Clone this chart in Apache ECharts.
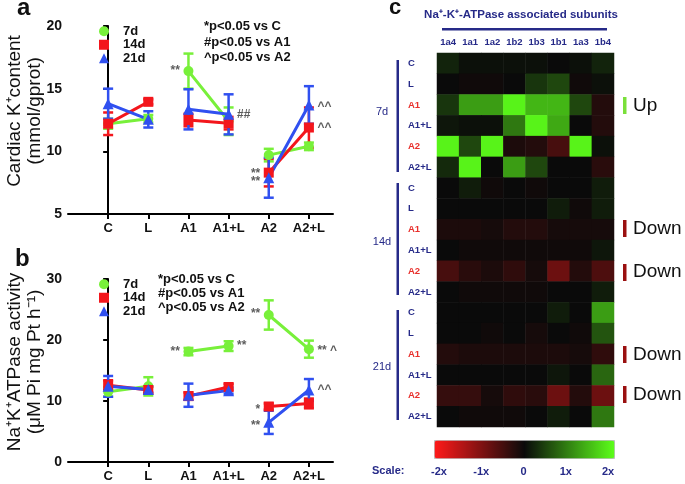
<!DOCTYPE html>
<html>
<head>
<meta charset="utf-8">
<script src="https://cdn.jsdelivr.net/npm/echarts@6/dist/echarts.min.js"></script>
<style>
  html, body { margin: 0; padding: 0; background: #fff; }
  #chart { width: 685px; height: 484px; }
</style>
</head>
<body>
<div id="chart"></div>
<script>
// groups on the x axis of panels a and b
const categories = ['C', 'L', 'A1', 'A1+L', 'A2', 'A2+L'];
const groupNames = ['7d', '14d', '21d'];

// panel a: cardiac K+ content (mean, sem)
const kMean7d = [12.2, 12.6, 16.4, 12.4, 9.7, 10.4];
const kErr7d = [0.4, 0.3, 1.4, 1.1, 0.5, 0.3];
const kMean14d = [12.2, 13.95, 12.5, 12.25, 8.3, 11.9];
const kErr14d = [0.9, 0.2, 0.5, 0.5, 1.1, 1.6];
const kMean21d = [13.8, 12.55, 13.35, 12.95, 7.9, 13.7];
const kErr21d = [1.2, 0.65, 1.6, 1.6, 1.6, 1.5];
const kTicks = [5, 10, 15, 20];

// panel b: Na+K+ATPase activity
const atpMean7d = [11.5, 12.4, 18.1, 19.0, 24.1, 18.5];
const atpErr7d = [0.8, 1.5, 0.6, 0.8, 2.4, 1.4];
const atpMean14d = [12.6, 11.8, 10.8, 12.3, 9.1, 9.6];
const atpErr14d = [0.8, 0.5, 0.6, 0.5, 0.5, 0.8];
const atpMean21d = [12.4, 11.9, 10.95, 11.7, 6.5, 11.8];
const atpErr21d = [1.7, 0.5, 1.9, 0.5, 1.9, 1.8];
const atpTicks = [0, 10, 20, 30];

// significance marks: [x index, y value, text, side]
const annotA = [
  [2, 16.4, '**', 'left'], [3, 12.95, '##', 'right'],
  [5, 13.6, '^^', 'right'], [5, 11.85, '^^', 'right'],
  [4, 8.25, '**', 'left'], [4, 7.6, '**', 'left']
];
const annotB = [
  [2, 18.1, '**', 'left'], [3, 19.1, '**', 'right'],
  [4, 24.3, '**', 'left'], [5, 18.3, '** ^', 'right'],
  [5, 11.9, '^^', 'right'], [4, 8.6, '*', 'left'], [4, 6.0, '**', 'left']
];

// panel c: heatmap of subunit expression
const heatCols = ['1a4', '1a1', '1a2', '1b2', '1b3', '1b1', '1a3', '1b4'];
const heatGroups = ['7d', '14d', '21d'];
const heatRowNames = ['C', 'L', 'A1', 'A1+L', 'A2', 'A2+L'];
const heatValues = [
  [0.2, 0.05, 0.05, 0.05, 0.05, 0, 0.05, 0.2],
  [0, -0.05, -0.05, 0, 0.35, 0.5, -0.05, 0.05],
  [0.35, 1.2, 1.2, 1.9, 1.4, 1.4, 0.5, -0.2],
  [0.1, 0.05, 0.05, 0.9, 1.9, 1.3, 0, -0.2],
  [1.9, 0.5, 1.9, -0.15, -0.2, -0.5, 1.9, 0.05],
  [0.25, 1.9, 0, 1.2, 0.5, 0, 0, -0.25],
  [0, 0.15, -0.05, 0, -0.05, 0, 0, 0.15],
  [0, 0, 0, 0, 0, 0.15, -0.05, 0.15],
  [-0.15, -0.15, -0.1, -0.2, -0.2, -0.1, -0.1, -0.1],
  [0, -0.05, -0.05, -0.05, -0.05, -0.05, -0.05, 0.1],
  [-0.5, -0.25, -0.15, -0.3, -0.1, -0.8, -0.2, -0.55],
  [0, -0.05, -0.05, -0.05, -0.05, 0, 0, 0.15],
  [0, 0, 0, 0, 0, 0.15, 0, 1.2],
  [0, 0, -0.05, 0, -0.1, 0, -0.05, 0.6],
  [-0.2, -0.15, -0.15, -0.15, -0.15, -0.15, -0.1, -0.3],
  [0, 0, 0, 0, 0, 0.1, 0, 0.75],
  [-0.35, -0.35, -0.1, -0.3, -0.25, -0.8, -0.2, -0.8],
  [0, -0.05, -0.05, -0.05, 0, 0.15, 0, 0.9]
];
const scaleTicks = ['-2x', '-1x', '0', '1x', '2x'];

const FONT = 'Liberation Sans, Arial, sans-serif';
const NAVY = '#262a88';
const GREEN = '#78f03a';
const RED = '#f3161c';
const BLUE = '#3050f0';
const colors = [GREEN, RED, BLUE];
const symbols = ['circle', 'rect', 'triangle'];

const heatRows = [];
heatGroups.forEach(g => heatRowNames.forEach(r => heatRows.push(g + '|' + r)));
const heatData = [];
heatValues.forEach((row, r) => row.forEach((v, c) => heatData.push([c, r, v])));

var chart = echarts.init(document.getElementById('chart'), null, { renderer: 'canvas' });

// lines only join C-L, A1-A1+L and A2-A2+L
function pairLine(means) {
  const out = [];
  means.forEach((m, i) => {
    out.push([i, m]);
    if (i % 2 === 1 && i < means.length - 1) out.push([i + 0.5, '-']);
  });
  return out;
}

function errBar(params, api) {
  const x = api.value(0), y = api.value(1), e = api.value(2);
  const top = api.coord([x, y + e]);
  const bot = api.coord([x, y - e]);
  const st = { stroke: api.visual('color'), lineWidth: 2.5 };
  const w = 5;
  return {
    type: 'group',
    children: [
      { type: 'line', shape: { x1: top[0], y1: top[1], x2: bot[0], y2: bot[1] }, style: st },
      { type: 'line', shape: { x1: top[0] - w, y1: top[1], x2: top[0] + w, y2: top[1] }, style: st },
      { type: 'line', shape: { x1: bot[0] - w, y1: bot[1], x2: bot[0] + w, y2: bot[1] }, style: st }
    ]
  };
}

const series = [];
function addPanel(axisIdx, means, errs) {
  means.forEach((m, k) => {
    series.push({
      name: groupNames[k], type: 'custom', xAxisIndex: axisIdx, yAxisIndex: axisIdx,
      renderItem: errBar, itemStyle: { color: colors[k] },
      encode: { x: 0, y: 1 },
      data: m.map((v, i) => [i, v, errs[k][i]]), silent: true
    });
    series.push({
      name: groupNames[k], type: 'line', xAxisIndex: axisIdx, yAxisIndex: axisIdx,
      data: pairLine(m), connectNulls: false,
      symbol: symbols[k], symbolSize: k === 2 ? 11 : 10,
      lineStyle: { color: colors[k], width: 3 },
      itemStyle: { color: colors[k] }, silent: true
    });
  });
}
addPanel(0, [kMean7d, kMean14d, kMean21d], [kErr7d, kErr14d, kErr21d]);
addPanel(1, [atpMean7d, atpMean14d, atpMean21d], [atpErr7d, atpErr14d, atpErr21d]);

function addAnnot(axisIdx, list) {
  series.push({
    type: 'scatter', xAxisIndex: axisIdx, yAxisIndex: axisIdx, symbolSize: 1,
    itemStyle: { color: 'rgba(0,0,0,0)' }, silent: true,
    data: list.map(a => ({
      value: [a[0], a[1]],
      label: {
        show: true, formatter: a[2], position: a[3], distance: 8,
        color: '#333', fontSize: 12, fontWeight: 'bold', fontFamily: FONT
      }
    }))
  });
}
addAnnot(0, annotA);
addAnnot(1, annotB);

const heatIdx = series.length;
series.push({
  type: 'heatmap', xAxisIndex: 2, yAxisIndex: 2, data: heatData,
  emphasis: { disabled: true }, silent: true
});

function catXAxis(gridIndex) {
  return {
    type: 'value', gridIndex: gridIndex, min: -1, max: 5.6,
    axisLine: { lineStyle: { color: '#000', width: 2 } },
    axisTick: { customValues: [0, 1, 2, 3, 4, 5], length: 5, lineStyle: { color: '#000', width: 2 } },
    axisLabel: {
      customValues: [0, 1, 2, 3, 4, 5], margin: 8,
      formatter: v => categories[Math.round(v)] || '',
      color: '#111', fontSize: 13, fontWeight: 'bold', fontFamily: FONT
    },
    splitLine: { show: false }
  };
}
function valYAxis(gridIndex, ticks) {
  return {
    type: 'value', gridIndex: gridIndex,
    min: ticks[0], max: ticks[ticks.length - 1], interval: ticks[1] - ticks[0],
    axisLine: { show: true, lineStyle: { color: '#000', width: 2 } },
    axisTick: { show: true, length: 5, lineStyle: { color: '#000', width: 2 } },
    axisLabel: { margin: 6, color: '#111', fontSize: 14, fontWeight: 'bold', fontFamily: FONT },
    splitLine: { show: false }
  };
}

const legendData = groupNames.map((n, k) => ({ name: n, icon: symbols[k] }));
function legendAt(top) {
  return {
    orient: 'vertical', left: 94, top: top, itemWidth: 10, itemHeight: 10, itemGap: 0,
    data: legendData, selectedMode: false,
    textStyle: { color: '#111', fontSize: 13, fontWeight: 'bold', fontFamily: FONT, lineHeight: 13.5, padding: [0, 0, 0, 9] }
  };
}

function txt(x, y, text, o) {
  return {
    type: 'text', x: x, y: y, silent: true,
    style: Object.assign({
      text: text, fill: '#111', font: 'bold 13px ' + FONT,
      textAlign: 'left', textVerticalAlign: 'middle'
    }, o || {})
  };
}
function rect(x, y, w, h, fill) {
  return { type: 'rect', silent: true, shape: { x: x, y: y, width: w, height: h }, style: { fill: fill } };
}

const graphics = [
  txt(17, 8, 'a', { font: 'bold 24px ' + FONT }),
  txt(15, 259, 'b', { font: 'bold 24px ' + FONT }),
  txt(389, 8, 'c', { font: 'bold 22px ' + FONT }),
  txt(204, 26, '*p<0.05 vs C'), txt(204, 42, '#p<0.05 vs A1'), txt(204, 57, '^p<0.05 vs A2'),
  txt(158, 279, '*p<0.05 vs C'), txt(158, 293, '#p<0.05 vs A1'), txt(158, 307, '^p<0.05 vs A2'),
  {
    type: 'text', x: 25, y: 111, rotation: Math.PI / 2, silent: true,
    style: { text: 'Cardiac K\u207Acontent\n(mmol/gprot)', fill: '#111', font: '19px ' + FONT, lineHeight: 20, textAlign: 'center', textVerticalAlign: 'middle' }
  },
  {
    type: 'text', x: 25, y: 362, rotation: Math.PI / 2, silent: true,
    style: { text: 'Na\u207AK\u207AATPase activity\n(\u03BCM Pi mg Pt h\u207B\u00B9)', fill: '#111', font: '19px ' + FONT, lineHeight: 20, textAlign: 'center', textVerticalAlign: 'middle' }
  },
  txt(521, 15, 'Na\u207A-K\u207A-ATPase associated subunits', { fill: NAVY, font: 'bold 11.5px ' + FONT, textAlign: 'center' }),
  rect(442, 28, 165, 2.5, NAVY),
  txt(382, 112, '7d', { fill: NAVY, font: '11px ' + FONT, textAlign: 'center' }),
  txt(382, 242, '14d', { fill: NAVY, font: '11px ' + FONT, textAlign: 'center' }),
  txt(382, 367, '21d', { fill: NAVY, font: '11px ' + FONT, textAlign: 'center' }),
  rect(396.5, 60, 2.5, 112, NAVY),
  rect(396.5, 183, 2.5, 112, NAVY),
  rect(396.5, 310, 2.5, 110, NAVY),
  rect(623, 97, 3.5, 17, '#7ae03a'),
  txt(633, 106, 'Up', { font: '19px ' + FONT }),
  rect(623, 220, 3.5, 17, '#9a1010'), txt(633, 229, 'Down', { font: '19px ' + FONT }),
  rect(623, 264, 3.5, 17, '#9a1010'), txt(633, 272, 'Down', { font: '19px ' + FONT }),
  rect(623, 346, 3.5, 17, '#9a1010'), txt(633, 355, 'Down', { font: '19px ' + FONT }),
  rect(623, 386, 3.5, 17, '#9a1010'), txt(633, 395, 'Down', { font: '19px ' + FONT }),
  txt(372, 471, 'Scale:', { fill: NAVY, font: 'bold 11px ' + FONT })
];

const option = {
  animation: false,
  backgroundColor: '#fff',
  grid: [
    { left: 68, right: 352, top: 26, bottom: 270 },
    { left: 68, right: 352, top: 279, bottom: 22 },
    { left: 437, right: 71, top: 53, bottom: 57 },
    { left: 439, right: 77, top: 440, height: 18 }
  ],
  xAxis: [
    catXAxis(0),
    catXAxis(1),
    {
      type: 'category', gridIndex: 2, data: heatCols, position: 'top',
      axisLine: { show: false }, axisTick: { show: false },
      axisLabel: { interval: 0, hideOverlap: false, margin: 6, color: NAVY, fontSize: 9.5, fontWeight: 'bold', fontFamily: FONT }
    },
    {
      type: 'category', gridIndex: 3, data: scaleTicks, boundaryGap: false,
      axisLine: { show: false }, axisTick: { show: false },
      axisLabel: { margin: 8, interval: 0, color: NAVY, fontSize: 11, fontWeight: 'bold', fontFamily: FONT }
    }
  ],
  yAxis: [
    valYAxis(0, kTicks),
    valYAxis(1, atpTicks),
    {
      type: 'category', gridIndex: 2, data: heatRows, inverse: true,
      axisLine: { show: false }, axisTick: { show: false },
      axisLabel: {
        interval: 0, align: 'left', margin: 29,
        formatter: v => v.split('|')[1],
        color: (v) => {
          const n = String(v).split('|')[1];
          return (n === 'A1' || n === 'A2') ? '#e8302c' : NAVY;
        },
        fontSize: 9.5, fontWeight: 'bold', fontFamily: FONT
      }
    },
    { type: 'value', gridIndex: 3, show: false }
  ],
  legend: [legendAt(19.5), legendAt(272.5)],
  visualMap: {
    type: 'continuous', min: -2, max: 2, seriesIndex: heatIdx,
    orient: 'horizontal', left: 434, top: 440, itemWidth: 18, itemHeight: 180,
    calculable: false, text: null, padding: 0, hoverLink: false,
    borderColor: '#bbb', borderWidth: 1,
    inRange: { color: ['#ff1a1a', '#0a0a0a', '#5cff1a'] }
  },
  graphic: graphics,
  series: series
};
chart.setOption(option);
</script>
</body>
</html>
